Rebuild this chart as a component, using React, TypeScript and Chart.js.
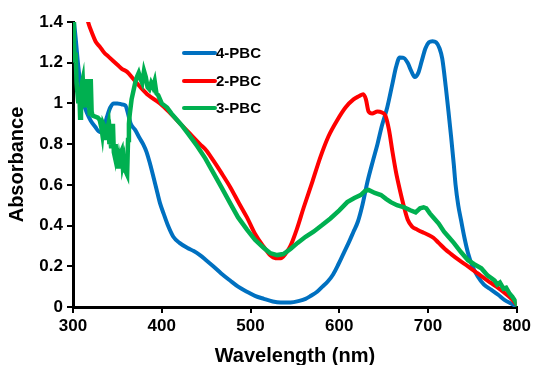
import React, { useEffect, useRef } from "react";
import { Chart, registerables } from "chart.js";

Chart.register(...registerables);

const xTicks = [300, 400, 500, 600, 700, 800];
const yTicks = [0, 0.2, 0.4, 0.6, 0.8, 1, 1.2, 1.4];

const seriesNames = ["4-PBC", "2-PBC", "3-PBC"];
const seriesColors = ["#0070C0", "#FF0000", "#00B050"];

// 4-PBC
const wl4 = [300, 303, 306, 309, 312, 316, 320, 325, 330, 334, 338, 342, 346, 350, 355, 359, 362, 365, 370, 375, 379, 383, 387, 390, 394, 398, 402, 407, 413, 420, 429, 436, 443, 450, 458, 467, 477, 486, 496, 505, 515, 525, 534, 545, 555, 562, 568, 575, 581, 587, 593, 599, 605, 611, 616, 621, 626, 632, 638, 643, 648, 654, 660, 664, 668, 672, 677, 681, 685, 689, 693, 697, 701, 705, 709, 713, 716, 720, 723, 726, 729, 731, 734, 737, 741, 745, 750, 756, 763, 771, 779, 786, 793, 799];
const abs4 = [1.45, 1.32, 1.18, 1.07, 1.0, 0.95, 0.915, 0.885, 0.86, 0.87, 0.93, 0.98, 1.0, 1.0, 0.995, 0.99, 0.95, 0.9, 0.87, 0.83, 0.8, 0.76, 0.7, 0.65, 0.58, 0.51, 0.46, 0.4, 0.345, 0.315, 0.29, 0.275, 0.255, 0.23, 0.2, 0.165, 0.13, 0.1, 0.075, 0.055, 0.04, 0.027, 0.022, 0.022, 0.03, 0.04, 0.055, 0.075, 0.1, 0.125, 0.16, 0.21, 0.265, 0.32, 0.37, 0.42, 0.5, 0.62, 0.72, 0.8, 0.89, 0.98, 1.1, 1.18, 1.225, 1.225, 1.2, 1.16, 1.13, 1.15, 1.21, 1.27, 1.3, 1.305, 1.3, 1.27, 1.22, 1.08, 0.96, 0.835, 0.7, 0.6, 0.5, 0.43, 0.34, 0.265, 0.2, 0.15, 0.11, 0.085, 0.06, 0.035, 0.018, 0.005];

// 2-PBC
const wl2 = [305, 312, 317, 322, 326, 330, 335, 340, 345, 350, 355, 361, 368, 376, 385, 398, 410, 421, 432, 443, 450, 458, 467, 477, 487, 496, 505, 515, 522, 528, 534, 540, 545, 552, 560, 570, 579, 588, 598, 607, 616, 622, 627, 630, 633, 637, 643, 648, 652, 656, 660, 664, 668, 673, 677, 682, 688, 695, 700, 706, 712, 719, 726, 735, 745, 756, 767, 777, 786, 794, 800];
const abs2 = [1.6, 1.5, 1.4, 1.34, 1.3, 1.28, 1.25, 1.23, 1.21, 1.19, 1.17, 1.155, 1.12, 1.08, 1.04, 1.0, 0.95, 0.9, 0.85, 0.8, 0.77, 0.72, 0.66, 0.59, 0.51, 0.44, 0.36, 0.295, 0.255, 0.24, 0.24, 0.265, 0.3, 0.38, 0.49, 0.62, 0.74, 0.84, 0.92, 0.98, 1.02, 1.035, 1.045, 1.02, 0.96, 0.95, 0.96, 0.955, 0.94, 0.87, 0.76, 0.66, 0.58, 0.49, 0.43, 0.395, 0.38, 0.365, 0.355, 0.34, 0.315, 0.285, 0.26, 0.23, 0.2, 0.165, 0.13, 0.1, 0.07, 0.04, 0.01];

// 3-PBC
const wl3 = [300, 301, 302, 303, 304, 305, 306, 307, 308, 309, 310, 311, 312, 313, 314, 315, 316, 317, 318, 319, 320, 321, 322, 325, 328, 330, 332, 333, 334, 336, 337, 338, 340, 341, 342, 343, 344, 345, 346, 347, 348, 349, 350, 351, 352, 353, 354, 355, 356, 357, 358, 359, 360, 361, 362, 363, 364, 366, 368, 370, 372, 374, 376, 378, 380, 382, 384, 386, 388, 390, 392, 394, 396, 400, 406, 411, 417, 423, 429, 435, 440, 449, 458, 467, 477, 486, 496, 505, 515, 522, 530, 537, 545, 553, 562, 571, 580, 590, 600, 609, 617, 624, 629, 633, 640, 647, 653, 658, 665, 673, 680, 686, 691, 695, 698, 702, 706, 712, 718, 723, 729, 737, 745, 752, 760, 767, 772, 775, 778, 781, 785, 788, 792, 795, 798, 801];
const abs3 = [1.42, 1.3, 1.2, 1.25, 1.1, 1.05, 1.0, 1.08, 0.93, 1.0, 1.1, 1.12, 1.02, 0.98, 1.08, 1.12, 0.98, 1.11, 1.0, 0.94, 1.12, 0.96, 0.94, 0.935, 0.93, 0.92, 0.88, 0.85, 0.9, 0.88, 0.82, 0.86, 0.9, 0.8, 0.83, 0.78, 0.86, 0.9, 0.76, 0.74, 0.8, 0.72, 0.78, 0.68, 0.72, 0.69, 0.76, 0.77, 0.7, 0.72, 0.66, 0.75, 0.66, 0.65, 0.82, 0.9, 0.95, 1.02, 1.06, 1.1, 1.13, 1.15, 1.12, 1.1, 1.16, 1.13, 1.08, 1.07, 1.1, 1.08, 1.11, 1.05, 1.04, 1.0, 0.98, 0.95, 0.92, 0.89, 0.855, 0.82, 0.79, 0.73, 0.66, 0.59, 0.51, 0.44, 0.38, 0.33, 0.29, 0.265, 0.255, 0.26, 0.285, 0.315, 0.345, 0.37, 0.4, 0.435, 0.475, 0.515, 0.535, 0.55, 0.57, 0.575, 0.56, 0.55, 0.53, 0.515, 0.5, 0.49, 0.475, 0.465, 0.485, 0.49, 0.485, 0.46, 0.44, 0.41, 0.37, 0.345, 0.315, 0.27, 0.23, 0.21, 0.19, 0.155, 0.14, 0.13, 0.11, 0.12, 0.09, 0.095, 0.065, 0.05, 0.03, 0.005];

const toPoints = (xs: number[], ys: number[]) => xs.map((x, i) => ({ x, y: ys[i] }));

const legendPlugin = {
  id: "insideLegend",
  afterDraw(chart: any) {
    const ctx = chart.ctx;
    const rows = [53, 81, 108];
    ctx.save();
    ctx.font = "bold 15px 'Liberation Sans', Arial, sans-serif";
    ctx.textBaseline = "middle";
    ctx.textAlign = "left";
    seriesNames.forEach((name, i) => {
      const y = rows[i];
      ctx.strokeStyle = seriesColors[i];
      ctx.lineWidth = 4;
      ctx.lineCap = "round";
      ctx.beginPath();
      ctx.moveTo(184, y);
      ctx.lineTo(215, y);
      ctx.stroke();
      ctx.fillStyle = "#000";
      ctx.fillText(name, 216, y + 1);
    });
    ctx.restore();
  },
};

export default function App() {
  const ref = useRef<HTMLCanvasElement | null>(null);
  useEffect(() => {
    if (!ref.current) return;
    const font = { family: "'Liberation Sans', Arial, sans-serif", weight: "bold" as const, size: 17 };
    const chart = new Chart(ref.current, {
      type: "line",
      data: {
        datasets: [
          { label: seriesNames[0], data: toPoints(wl4, abs4), borderColor: seriesColors[0], borderWidth: 4, pointRadius: 0, cubicInterpolationMode: "monotone", order: 3 },
          { label: seriesNames[1], data: toPoints(wl2, abs2), borderColor: seriesColors[1], borderWidth: 4, pointRadius: 0, cubicInterpolationMode: "monotone", order: 2 },
          { label: seriesNames[2], data: toPoints(wl3, abs3), borderColor: seriesColors[2], borderWidth: 4.5, pointRadius: 0, tension: 0, order: 1 },
        ],
      },
      options: {
        animation: false,
        responsive: false,
        devicePixelRatio: 1,
        layout: { padding: { top: 22, right: 17, left: 0, bottom: 0 } },
        plugins: { legend: { display: false }, tooltip: { enabled: false } },
        scales: {
          x: {
            type: "linear",
            min: 300,
            max: 800,
            afterBuildTicks: (s: any) => { s.ticks = xTicks.map((v) => ({ value: v })); },
            afterFit: (s: any) => { s.height = 58; },
            grid: { display: true, drawOnChartArea: false, drawTicks: true, tickLength: 6, color: "#000", lineWidth: 2 },
            border: { display: true, color: "#000", width: 3 },
            ticks: { color: "#000", font, padding: 3, maxRotation: 0, callback: (v: any) => String(Math.round(Number(v))) },
            title: { display: true, text: "Wavelength (nm)", color: "#000", font: { ...font, size: 20 }, padding: { top: 0, bottom: -3 } },
          },
          y: {
            type: "linear",
            min: 0,
            max: 1.4,
            afterBuildTicks: (s: any) => { s.ticks = yTicks.map((v) => ({ value: v })); },
            afterFit: (s: any) => { s.width = 73; },
            grid: { display: true, drawOnChartArea: false, drawTicks: true, tickLength: 6, color: "#000", lineWidth: 2 },
            border: { display: true, color: "#000", width: 3 },
            ticks: { color: "#000", font, padding: 4, callback: (v: any) => String(Number(Number(v).toFixed(1))) },
            title: { display: true, text: "Absorbance", color: "#000", font: { ...font, size: 20 }, padding: { top: 5, bottom: 0 } },
          },
        },
      },
      plugins: [legendPlugin],
    } as any);
    return () => chart.destroy();
  }, []);
  return (
    <div style={{ position: "absolute", left: 0, top: 0, width: 534, height: 365, background: "#fff" }}>
      <canvas ref={ref} width={534} height={365} style={{ display: "block" }} />
    </div>
  );
}
